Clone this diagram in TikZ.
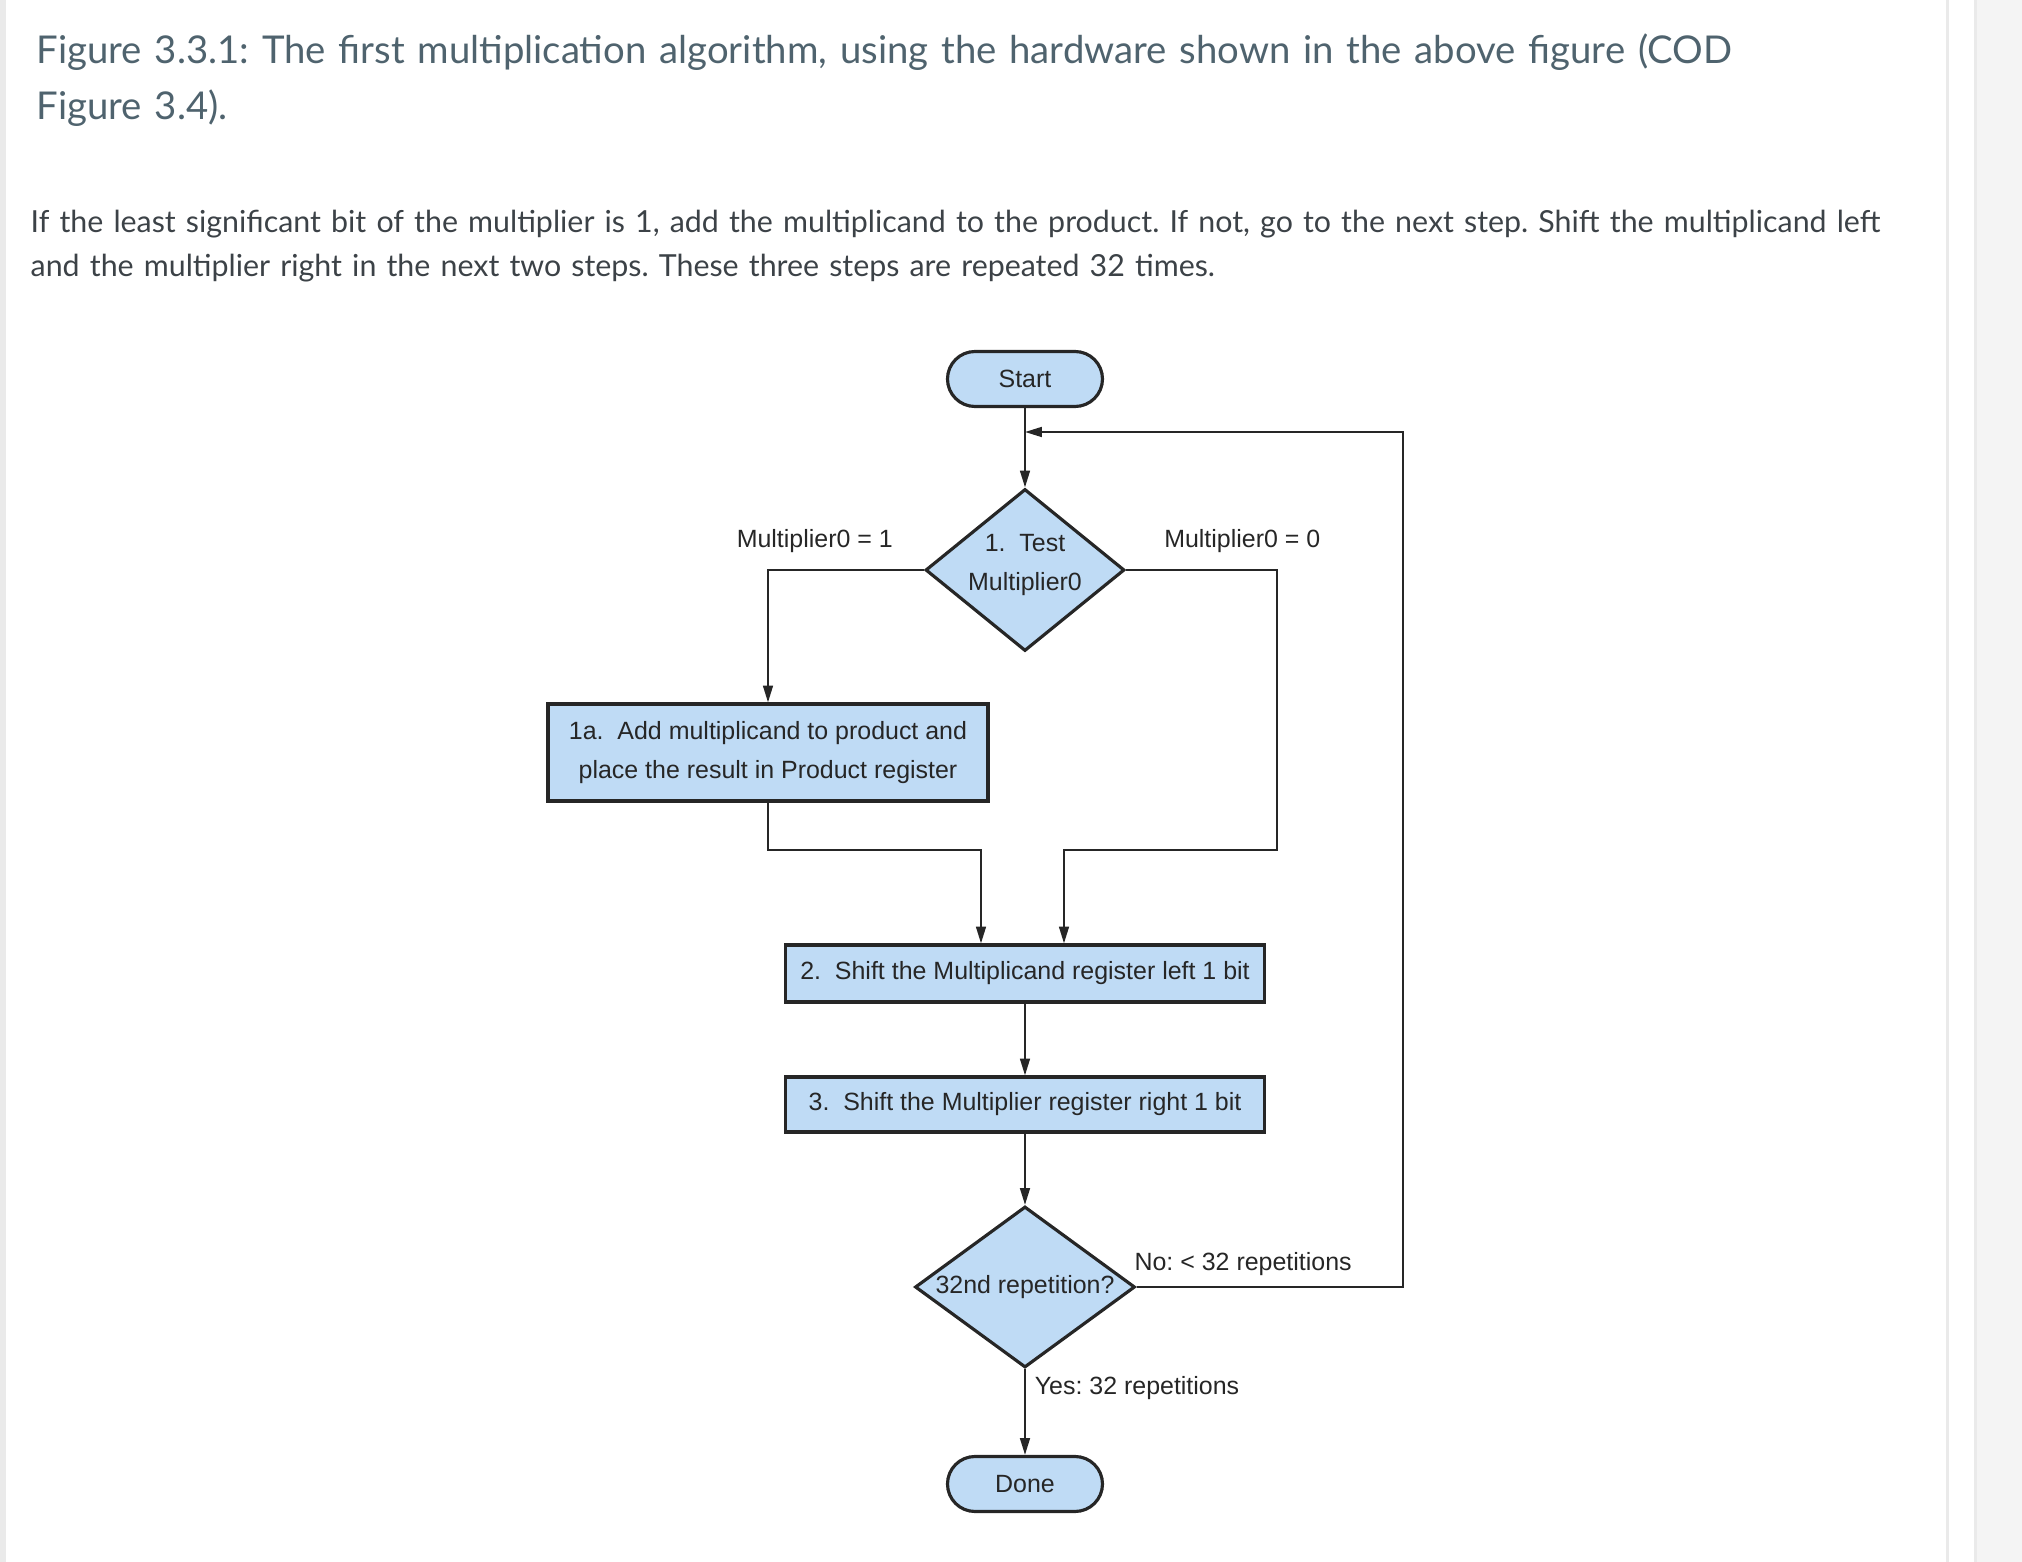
\documentclass[tikz,border=0pt]{standalone}
\usepackage{fontspec}
\setmainfont{Lato}
\newfontfamily\chartfont{Liberation Sans}
\usetikzlibrary{shapes.geometric,arrows.meta,positioning}
\frenchspacing

\definecolor{boxblue}{HTML}{BFDBF5}
\definecolor{linegray}{HTML}{262626}
\definecolor{titlegray}{HTML}{4F636E}
\definecolor{textgray}{HTML}{3C4247}
\definecolor{edgegray}{HTML}{EAEAEA}
\definecolor{bandgray}{HTML}{F4F4F4}

\tikzset{
  >={Triangle[width=2.8pt,length=4.8pt]},
  chart/.style={font=\chartfont\fontsize{7.1}{11}\selectfont, text=linegray},
  flow/.style={draw=linegray, line width=0.6pt},
  block/.style={chart, rectangle, draw=linegray, line width=0.9pt,
    fill=boxblue, align=center, inner sep=0pt},
  term/.style={block, rounded corners=2.75mm, minimum width=1.55cm,
    minimum height=0.55cm},
  decide/.style={block, diamond, aspect=1.4},
  lbl/.style={chart, inner sep=1pt}
}

\begin{document}
\begin{tikzpicture}[node distance=2cm, on grid]
  \useasboundingbox (0,0) rectangle (20.22,-15.62);
  % page edges
  \fill[edgegray] (0,0) rectangle (0.06,-15.62);
  \fill[edgegray] (19.46,0) rectangle (19.49,-15.62);
  \fill[bandgray] (19.74,0) rectangle (20.22,-15.62);
  \fill[edgegray] (19.74,0) rectangle (19.77,-15.62);

  % caption and text
  \node[anchor=base west, text width=19.6cm, align=left, inner sep=0pt,
    font=\fontsize{10.9}{15.9}\selectfont, text=titlegray] (caption) at (0.36,-0.64)
    {Figure 3.3.1: The first multiplication algorithm, using the hardware shown in the above figure (COD\\Figure 3.4).};
  \node[anchor=base west, text width=19.6cm, align=left, inner sep=0pt,
    font=\fontsize{8.64}{12.4}\selectfont, text=textgray] (intro) at (0.30,-2.33)
    {If the least significant bit of the multiplier is 1, add the multiplicand to the product. If not, go to the next step. Shift the multiplicand left\\and the multiplier right in the next two steps. These three steps are repeated 32 times.};

  % flowchart
  \node[term] (start) at (10.25,-3.79) {Start};
  \node[decide, inner sep=-1.2pt, minimum width=1.99cm, minimum height=1.62cm] (test) [below=1.91cm of start]
    {1.\ \ Test\\Multiplier0\rule[-4.3pt]{0pt}{1pt}};
  \node[block, minimum width=4.40cm, minimum height=0.97cm] (add) [below left=1.825cm and 2.57cm of test]
    {1a.\ \ Add multiplicand to product and\\place the result in Product register};
  \node[block, minimum width=4.79cm, minimum height=0.57cm] (shiftm) [below=4.035cm of test]
    {2.\ \ Shift the Multiplicand register left 1 bit};
  \node[block, minimum width=4.79cm, minimum height=0.55cm] (shiftp) [below=1.31cm of shiftm]
    {3.\ \ Shift the Multiplier register right 1 bit};
  \node[decide, minimum width=2.20cm, minimum height=1.61cm] (rep) [below=1.825cm of shiftp] {32nd repetition?};
  \node[term] (done) [below=1.97cm of rep] {Done};

  \coordinate (mrg) at (10.25,-8.50);
  \coordinate (back) at (14.03,-4.32);

  \draw[flow,->] (start) -- (test);
  \draw[flow,->] (test.west) -| node[lbl, pos=0.35, above=3.5pt] {Multiplier0 = 1} (add.north);
  \draw[flow,->] (test.east) -| node[lbl, pos=0.385, above=3.5pt] {Multiplier0 = 0} ([xshift=2.52cm]mrg)
    -- ([xshift=3.9mm]mrg) -- ([xshift=3.9mm]shiftm.north);
  \draw[flow,->] (add.south) |- ([xshift=-4.4mm]mrg) -- ([xshift=-4.4mm]shiftm.north);
  \draw[flow,->] (shiftm) -- (shiftp);
  \draw[flow,->] (shiftp) -- (rep);
  \draw[flow,->] (rep) -- node[lbl, pos=0.225, right=1.5pt] {Yes: 32 repetitions} (done);
  \draw[flow,->] (rep.east) -| node[lbl, pos=0.2, above=2pt] {No: < 32 repetitions} (back) -- (back -| start);
\end{tikzpicture}
\end{document}
